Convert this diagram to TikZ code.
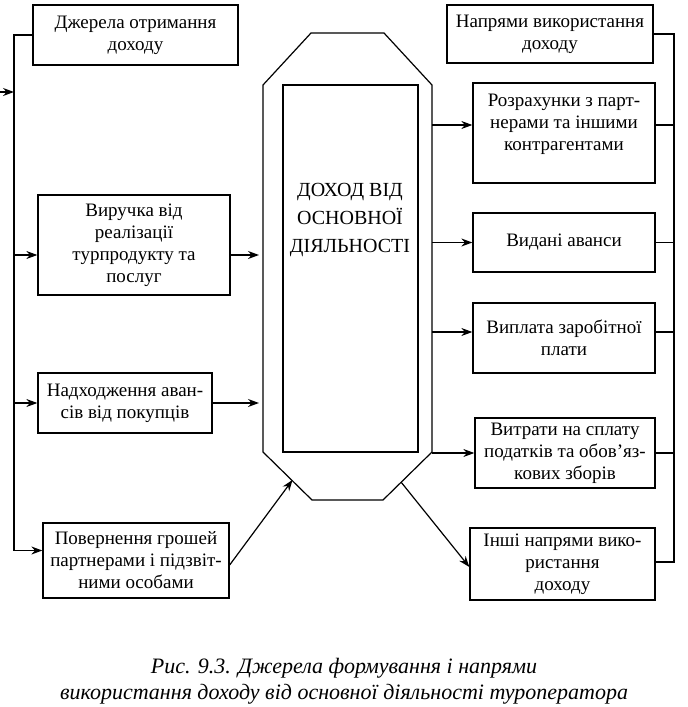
\documentclass[tikz,border=0pt]{standalone}
\usepackage{fontspec}
\setmainfont{Liberation Serif}
\usepackage{tikz}
\usetikzlibrary{calc}
\usetikzlibrary{arrows.meta}
\tikzstyle{blk} = [rectangle, 
draw=black, 
line width=1.3pt, 
align=center, 
inner sep=2pt, 
font=\fontsize{19}{22}\selectfont]
\tikzstyle{line} = [line width=1.2pt]
\tikzstyle{arrow} = [line width=1.2pt,-{Stealth[length=11pt,width=8pt]}]

\begin{document}
\begin{tikzpicture}[x=1pt, y=-1pt]
    \useasboundingbox (0,0) rectangle (688,707);

    % Sources
    \node (src) [blk, minimum width=205pt, minimum height=60pt] at (135.5,35) {Джерела отримання\\доходу};
    \node (rev) [blk, minimum width=192pt, minimum height=100pt] at (134,245) {Виручка від\\реалізації\\турпродукту та\\послуг};
    \node (adv) [blk, minimum width=174pt, minimum height=60pt] at (125,403) {Надходження аван-\\сів від покупців};
    \node (ret) [blk, minimum width=186pt, minimum height=75pt] at (136,560.5) {Повернення грошей\\партнерами і підзвіт-\\ними особами};

    % Directions
    \node (dir) [blk, minimum width=206pt, minimum height=58pt] at (550,34) {Напрями використання\\доходу};
    \node (u1) [blk, minimum width=182pt, minimum height=100pt] at (564,133) {Розрахунки з парт-\\нерами та іншими\\контрагентами\\~};
    \node (u2) [blk, minimum width=182pt, minimum height=59pt] at (564,242.5) {Видані аванси};
    \node (u3) [blk, minimum width=182pt, minimum height=70pt] at (564,338) {Виплата заробітної\\плати};
    \node (u4) [blk, minimum width=180pt, minimum height=70pt] at (565,453) {Витрати на сплату\\податків та обов’яз-\\кових зборів};
    \node (u5) [blk, minimum width=185pt, minimum height=72pt] at (562.5,564) {Інші напрями вико-\\ристання\\доходу};

    % Hull and core
    \draw [line] (311,33) -- (384,33) -- (432,85) -- (432,452) -- (383,500) -- (312,500) -- (263,452) -- (263,85) -- cycle;
    \node (core) [blk, minimum width=135pt, minimum height=367pt] at (350.5,268.5) {};
    \node (coretxt) [font=\fontsize{20}{28}\selectfont, align=center] at (350,220) {ДОХОД ВІД\\ОСНОВНОЇ\\ДІЯЛЬНОСТІ};

    \coordinate (lbus) at (14,0);
    \coordinate (rbus) at (674,0);
    \coordinate (hl) at (263,0);
    \coordinate (hr) at (432,0);
    \coordinate (hin) at (292.5,480);
    \coordinate (hout) at (401,482);
    \coordinate (stub) at (0,92);

    % Left bus
    \draw [line] (src.west) -| ([yshift=10pt]ret.west -| lbus);
    \draw [arrow] (stub) -- (stub -| lbus);
    \draw [arrow] ([yshift=-10pt]rev.west -| lbus) -- ([yshift=-10pt]rev.west);
    \draw [arrow] (adv.west -| lbus) -- (adv.west);
    \draw [arrow] ([yshift=10pt]ret.west -| lbus) -- ([yshift=10pt]ret.west);

    % Into the hull
    \draw [arrow, shorten >=4pt] ([yshift=-10pt]rev.east) -- ([yshift=-10pt]rev.east -| hl);
    \draw [arrow, shorten >=4pt] (adv.east) -- (adv.east -| hl);
    \draw [arrow] ([yshift=-4.5pt]ret.east) -- (hin);

    % Out of the hull
    \draw [arrow] ([yshift=8pt]u1.west -| hr) -- ([yshift=8pt]u1.west);
    \draw [arrow] (u2.west -| hr) -- (u2.west);
    \draw [arrow] ([yshift=6pt]u3.west -| hr) -- ([yshift=6pt]u3.west);
    \draw [arrow] (u4.west -| hr) -- (u4.west);
    \draw [arrow] (hout) -- ([yshift=-3pt]u5.west);

    % Right bus
    \draw [line] (dir.east) -| ([yshift=2pt]u5.east -| rbus) -- ([yshift=2pt]u5.east);
    \draw [line] ([yshift=8pt]u1.east) -- ([yshift=8pt]u1.east -| rbus);
    \draw [line] (u2.east) -- (u2.east -| rbus);
    \draw [line] ([yshift=6pt]u3.east) -- ([yshift=6pt]u3.east -| rbus);
    \draw [line] (u4.east) -- (u4.east -| rbus);

    \node (cap) [font=\itshape\fontsize{22}{26}\selectfont, align=center] at (344,681) {Рис. 9.3. Джерела формування і напрями\\використання доходу від основної діяльності туроператора};
\end{tikzpicture}
\end{document}
